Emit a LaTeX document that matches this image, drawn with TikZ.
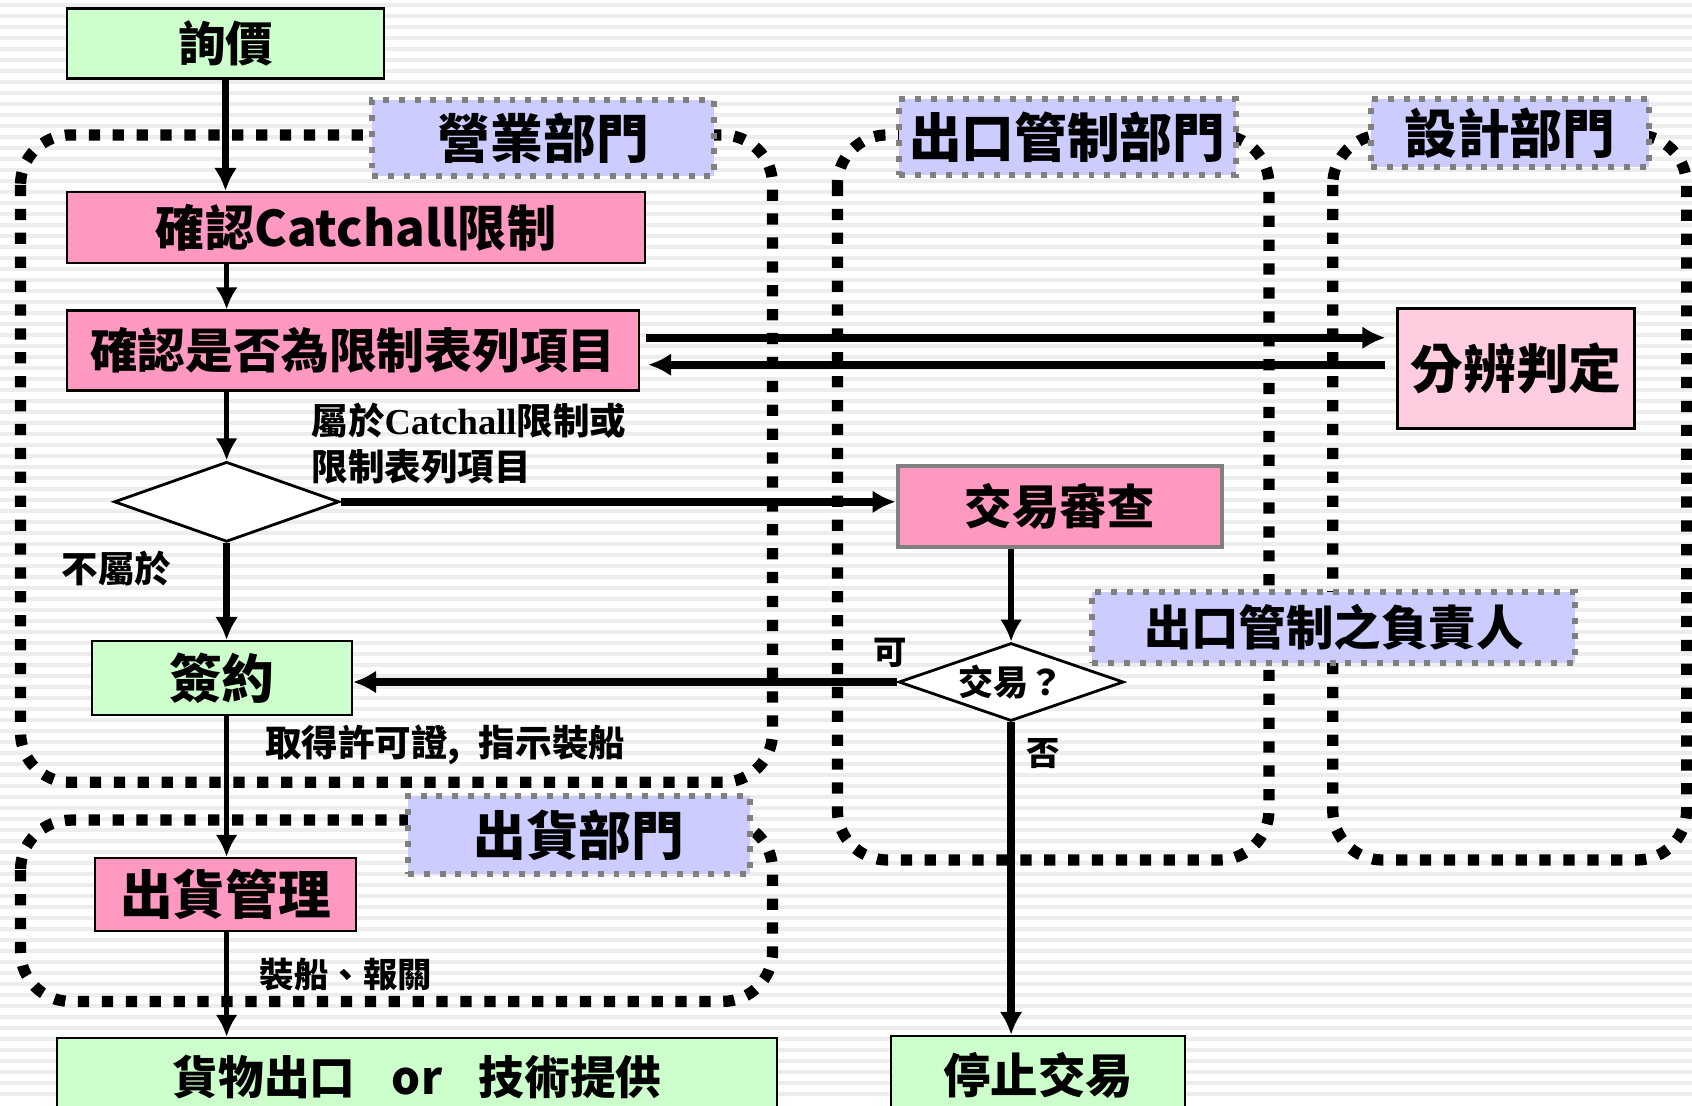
\documentclass[tikz,border=0pt]{standalone}
\usepackage{fontspec}
\setmainfont{Noto Sans CJK TC}
\newfontfamily\latinserif{Liberation Serif}
\usetikzlibrary{arrows.meta,shapes.geometric}

\definecolor{boxgreen}{HTML}{CCFFCC}
\definecolor{boxpink}{HTML}{FF99C2}
\definecolor{palepink}{HTML}{FFCCE0}
\definecolor{lavender}{HTML}{CCCCFF}

\tikzset{
  stepbox/.style={draw, rectangle, align=center, line width=0.7pt, inner sep=0pt},
  greenbox/.style={stepbox, fill=boxgreen},
  pinkbox/.style={stepbox, fill=boxpink},
  deptlabel/.style={rectangle, fill=lavender, draw=gray, line width=1.7pt, dash pattern=on 1.7pt off 2.8pt, inner sep=0pt, font=\bfseries\fontsize{15}{15}\selectfont},
  decision/.style={diamond, draw, fill=white, line width=0.8pt, aspect=2.8, inner sep=0pt, font=\bfseries\fontsize{10}{10}\selectfont},
  dept/.style={line width=3.2pt, dash pattern=on 3.2pt off 3.6pt, rounded corners=0.5cm},
  flow/.style={-{Latex[length=2.3mm,width=2.3mm]}, line width=2.2pt},
  thinflow/.style={-{Latex[length=2.2mm,width=2.2mm]}, line width=1.5pt},
  note/.style={inner sep=0pt, font=\bfseries\fontsize{10.4}{12.9}\selectfont},
  stripe/.style={black!7, line width=0.035cm}
}

\begin{document}
\begin{tikzpicture}
    \useasboundingbox (0,0) rectangle (16.92,-11.05);
    \clip (0,0) rectangle (16.92,-11.05);
    % Background
    \foreach \y in {0.05,0.16,...,11.05}
        \draw[stripe] (0,-\y) -- (16.92,-\y);
    % Departments
    \draw[dept] (0.205,-1.349) rectangle (7.726,-7.823);
    \draw[dept] (8.374,-1.349) rectangle (12.690,-8.600);
    \draw[dept] (13.327,-1.349) rectangle (16.866,-8.600);
    \draw[dept] (0.205,-8.201) rectangle (7.726,-10.014);
    \node[deptlabel, minimum width=3.42cm, minimum height=0.76cm] (sales) at (5.433,-1.381) {營業部門};
    \node[deptlabel, minimum width=3.37cm, minimum height=0.76cm] (control) at (10.672,-1.370) {出口管制部門};
    \node[deptlabel, minimum width=2.78cm, minimum height=0.68cm] (design) at (15.097,-1.333) {設計部門};
    \node[deptlabel, minimum width=3.42cm, minimum height=0.78cm] (shipping) at (5.789,-8.352) {出貨部門};
    \node[deptlabel, minimum width=4.83cm, minimum height=0.71cm, font=\bfseries\fontsize{13.5}{13.5}\selectfont] (officer) at (13.338,-6.270) {出口管制之負責人};
    % Nodes
    \node[greenbox, minimum width=3.17cm, minimum height=0.70cm, font=\bfseries\fontsize{13.5}{13.5}\selectfont] (ask) at (2.255,-0.437) {詢價};
    \node[pinkbox, minimum width=5.78cm, minimum height=0.71cm, font=\bfseries\fontsize{14}{14}\selectfont] (catch) at (3.561,-2.277) {確認Catchall限制};
    \node[pinkbox, minimum width=5.72cm, minimum height=0.80cm, font=\bfseries\fontsize{13.6}{13.6}\selectfont] (check) at (3.529,-3.507) {確認是否為限制表列項目};
    \node[stepbox, fill=palepink, minimum width=2.37cm, minimum height=1.20cm, font=\bfseries\fontsize{15}{15}\selectfont] (judge) at (15.161,-3.685) {分辨判定};
    \node[decision, minimum width=2.25cm, minimum height=0.80cm] (d1) at (2.266,-5.018) {};
    \node[pinkbox, draw=gray, line width=1.2pt, minimum width=3.24cm, minimum height=0.81cm, font=\bfseries\fontsize{13.5}{13.5}\selectfont] (review) at (10.597,-5.067) {交易審查};
    \node[greenbox, minimum width=2.60cm, minimum height=0.74cm, font=\bfseries\fontsize{15}{15}\selectfont] (sign) at (2.218,-6.782) {簽約};
    \node[decision, minimum width=2.25cm, minimum height=0.78cm] (d2) at (10.111,-6.820) {交易？};
    \node[pinkbox, minimum width=2.61cm, minimum height=0.73cm, font=\bfseries\fontsize{15}{15}\selectfont] (ship) at (2.255,-8.946) {出貨管理};
    \node[greenbox, minimum width=7.20cm, minimum height=0.78cm, font=\bfseries\fontsize{13}{13}\selectfont] (export) at (4.171,-10.77) {貨物出口\hspace{0.8em}or\hspace{0.8em}技術提供};
    \node[greenbox, minimum width=2.94cm, minimum height=0.78cm, font=\bfseries\fontsize{13.5}{13.5}\selectfont] (stop) at (10.381,-10.75) {停止交易};
    % Arrows
    \draw[flow] (ask.south) -- (ask.south |- catch.north);
    \draw[thinflow] (d1 |- catch.south) -- (d1 |- check.north);
    \draw[flow, shorten <=0.6mm, shorten >=1.1mm] ([yshift=1.3mm]check.east) -- ([yshift=1.3mm]check.east -| judge.west);
    \draw[flow, shorten <=1.1mm, shorten >=0.8mm] ([yshift=-1.4mm]check.east -| judge.west) -- ([yshift=-1.4mm]check.east);
    \draw[thinflow] (d1 |- check.south) -- (d1.north);
    \draw[flow] (d1.east) -- (d1.east -| review.west);
    \draw[flow] (d1.south) -- (d1 |- sign.north);
    \draw[thinflow] (d2 |- review.south) -- (d2.north);
    \draw[flow] (d2.west) -- (d2.west -| sign.east);
    \draw[flow] (d2.south) -- (d2.south |- stop.north);
    \draw[thinflow] (d1 |- sign.south) -- (d1 |- ship.north);
    \draw[thinflow] (d1 |- ship.south) -- (d1 |- export.north);
    % Labels
    \node[note, anchor=west, align=left] (belong) at (3.108,-4.435) {屬於{\latinserif Catchall}限制或\\限制表列項目};
    \node[note] (notbelong) at (1.165,-5.687) {不屬於};
    \node[note, font=\bfseries\fontsize{9.5}{9.5}\selectfont] (yes) at (8.903,-6.529) {可};
    \node[note, font=\bfseries\fontsize{9.5}{9.5}\selectfont] (no) at (10.435,-7.532) {否};
    \node[note, anchor=west] (permit) at (2.644,-7.446) {取得許可證,\hspace{0.5em}指示裝船};
    \node[note, anchor=west, font=\bfseries\fontsize{9.8}{9.8}\selectfont] (customs) at (2.590,-9.744) {裝船、報關};
\end{tikzpicture}
\end{document}
